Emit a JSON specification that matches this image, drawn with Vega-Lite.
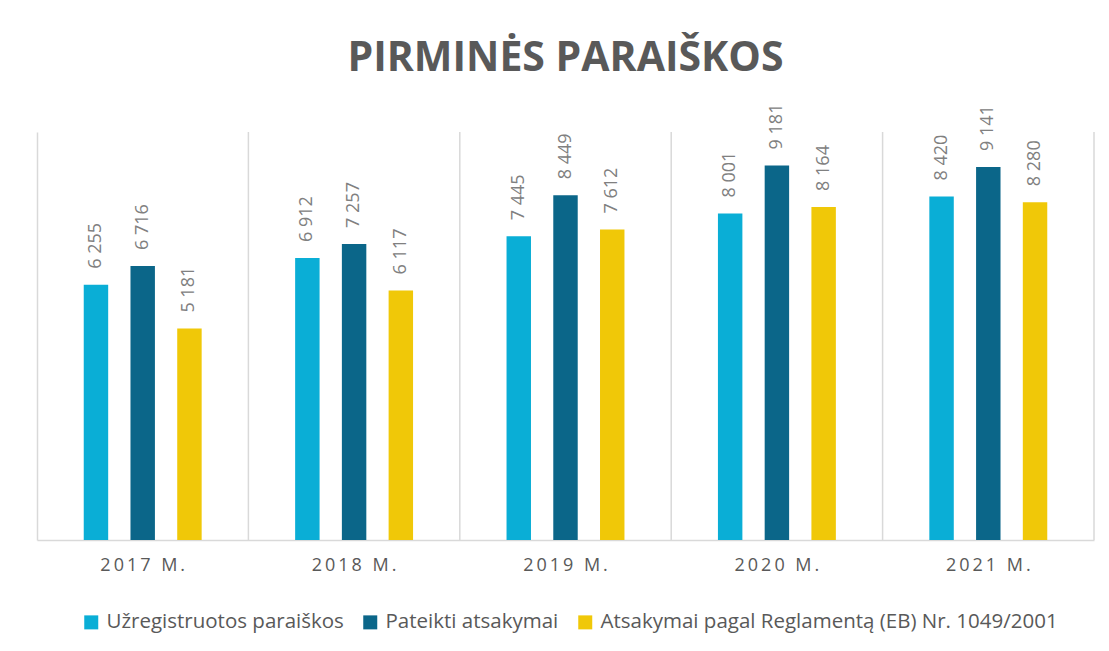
{
  "$schema": "https://vega.github.io/schema/vega-lite/v6.json",
  "width": 1057,
  "height": 408,
  "autosize": {"type": "none"},
  "padding": {"left": 37, "top": 132, "right": 15, "bottom": 111},
  "background": "#ffffff",
  "config": {
    "view": {"stroke": null},
    "font": "Open Sans",
    "locale": {"number": {"decimal": ",", "thousands": " ", "grouping": [3], "currency": ["", " €"]}}
  },
  "title": {
    "text": "PIRMINĖS PARAIŠKOS",
    "anchor": "middle",
    "frame": "group",
    "fontSize": 41,
    "fontWeight": "bold",
    "color": "#595959",
    "font": "Open Sans",
    "offset": 24
  },
  "datasets": {
    "vals": [
      {"year": "2017 M.", "series": "Užregistruotos paraiškos", "value": 6255},
      {"year": "2017 M.", "series": "Pateikti atsakymai", "value": 6716},
      {"year": "2017 M.", "series": "Atsakymai pagal Reglamentą (EB) Nr. 1049/2001", "value": 5181},
      {"year": "2018 M.", "series": "Užregistruotos paraiškos", "value": 6912},
      {"year": "2018 M.", "series": "Pateikti atsakymai", "value": 7257},
      {"year": "2018 M.", "series": "Atsakymai pagal Reglamentą (EB) Nr. 1049/2001", "value": 6117},
      {"year": "2019 M.", "series": "Užregistruotos paraiškos", "value": 7445},
      {"year": "2019 M.", "series": "Pateikti atsakymai", "value": 8449},
      {"year": "2019 M.", "series": "Atsakymai pagal Reglamentą (EB) Nr. 1049/2001", "value": 7612},
      {"year": "2020 M.", "series": "Užregistruotos paraiškos", "value": 8001},
      {"year": "2020 M.", "series": "Pateikti atsakymai", "value": 9181},
      {"year": "2020 M.", "series": "Atsakymai pagal Reglamentą (EB) Nr. 1049/2001", "value": 8164},
      {"year": "2021 M.", "series": "Užregistruotos paraiškos", "value": 8420},
      {"year": "2021 M.", "series": "Pateikti atsakymai", "value": 9141},
      {"year": "2021 M.", "series": "Atsakymai pagal Reglamentą (EB) Nr. 1049/2001", "value": 8280}
    ],
    "years": [
      {"year": "2017 M."}, {"year": "2018 M."}, {"year": "2019 M."}, {"year": "2020 M."}, {"year": "2021 M."}
    ]
  },
  "layer": [
    {
      "data": {"name": "years"},
      "mark": {"type": "rule", "color": "#d9d9d9", "strokeWidth": 1.5},
      "encoding": {
        "x": {"field": "year", "type": "nominal", "bandPosition": 1,
              "scale": {"paddingInner": 0, "paddingOuter": 0}}
      }
    },
    {
      "data": {"name": "vals"},
      "mark": {"type": "bar"},
      "encoding": {
        "x": {"field": "year", "type": "nominal", "sort": null,
              "scale": {"paddingInner": 0, "paddingOuter": 0},
              "axis": {"title": null, "ticks": false, "domain": true, "domainColor": "#d9d9d9", "domainWidth": 1.5,
                       "bandPosition": 0.5, "labelAlign": "center",
                       "labelAngle": 0, "labelFontSize": 18, "labelColor": "#595959", "labelPadding": 25,
                       "labelExpr": "join(split(datum.label, ''), '\u2009')"}},
        "xOffset": {"field": "series", "type": "nominal", "sort": null,
                    "scale": {"paddingInner": 0.477, "paddingOuter": 1.142}},
        "y": {"field": "value", "type": "quantitative",
              "scale": {"domain": [0, 10000]},
              "axis": {"title": null, "labels": false, "ticks": false, "grid": false, "domain": true, "domainColor": "#d9d9d9", "domainWidth": 1.5}},
        "color": {"field": "series", "type": "nominal", "sort": null,
                  "scale": {"range": ["#0AAED6", "#0B6689", "#F0C808"]},
                  "legend": {"title": null, "orient": "none", "legendX": 44, "legendY": 480,
                             "direction": "horizontal", "columns": 3, "symbolType": "square", "symbolSize": 196,
                             "symbolStrokeWidth": 0, "labelFontSize": 20.5, "labelColor": "#595959", "labelOffset": 5,
                             "columnPadding": 16, "labelLimit": 700}}
      }
    },
    {
      "data": {"name": "vals"},
      "mark": {"type": "text", "angle": 270, "align": "left", "baseline": "middle", "dx": 16,
               "fontSize": 18, "color": "#808080"},
      "encoding": {
        "x": {"field": "year", "type": "nominal", "sort": null},
        "xOffset": {"field": "series", "type": "nominal", "sort": null},
        "y": {"field": "value", "type": "quantitative"},
        "text": {"field": "value", "type": "quantitative", "format": ","}
      }
    }
  ]
}
